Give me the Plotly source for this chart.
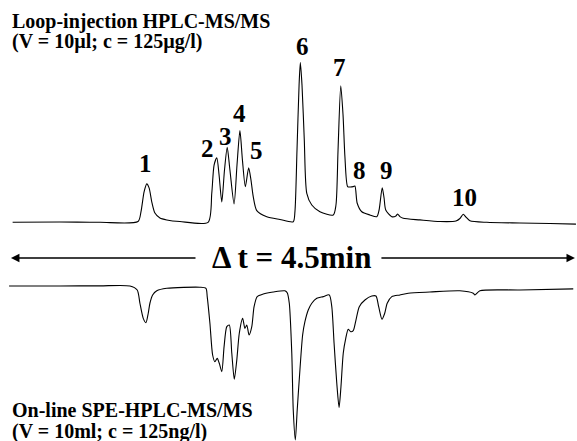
import plotly.graph_objects as go

# Retention time (s) and relative intensity (% of peak 6) - Loop-injection trace
t_loop = [0.3, 23.0, 42.2, 60.5, 61.9, 63.4, 64.7, 65.8, 67.2, 68.6, 71.0, 74.3, 80.6,
          94.1, 95.9, 97.0, 98.3, 99.4, 100.7, 102.0, 103.3, 104.6, 106.6, 108.0, 109.4,
          110.6, 112.0, 113.6, 114.7, 115.8, 117.5, 122.3, 128.6, 135.0, 135.8, 136.8,
          137.8, 138.4, 139.2, 140.3, 141.5, 143.9, 147.8, 154.2, 155.5, 156.5, 157.8,
          158.9, 159.8, 161.1, 162.2, 163.8, 164.6, 165.7, 167.9, 171.8, 175.1, 176.2,
          177.7, 178.6, 179.4, 182.3, 184.3, 185.1, 186.2, 187.8, 195.8, 205.4, 213.1,
          215.0, 216.6, 217.9, 219.8, 227.9, 243.8, 258.2, 270.7]
i_loop = [-0.2, 0.0, -0.2, 0.3, 6.3, 18.8, 23.8, 21.3, 11.9, 5.6, 2.5, 1.3, 0.3,
          -0.2, 18.1, 35.6, 40.2, 29.4, 12.5, 32.5, 46.7, 32.5, 11.3, 35.6, 57.1,
          38.8, 22.1, 33.9, 26.3, 15.8, 7.1, 3.3, 1.6, 0.2, 6.3, 45.0,
          85.6, 99.6, 85.6, 51.3, 17.9, 10.6, 6.4, 4.4, 10.6, 45.0, 85.2,
          66.9, 40.8, 22.1, 21.9, 22.1, 22.5, 11.7, 6.4, 4.4, 3.3, 7.5,
          21.4, 15.0, 7.5, 3.3, 3.8, 5.0, 3.4, 2.3, 1.3, 0.3, 0.6,
          2.2, 4.8, 3.1, 0.8, -0.2, -0.6, -0.9, -1.3]

# On-line SPE trace (plotted mirrored, downward)
t_spe = [-1.4, 23.0, 42.2, 56.6, 60.1, 61.4, 63.0, 64.3, 65.4, 66.2, 67.5, 69.5, 74.3,
         90.2, 93.1, 93.7, 95.0, 96.3, 97.4, 98.5, 99.5, 100.7, 101.8, 103.1, 104.3,
         105.5, 106.7, 107.9, 109.1, 110.7, 111.8, 112.7, 113.8, 115.1, 116.2, 117.7,
         120.6, 125.4, 131.0, 132.1, 133.1, 134.3, 135.0, 136.0, 136.9, 138.2, 139.5,
         140.6, 142.2, 143.9, 146.3, 149.4, 152.3, 153.5, 154.6, 155.9, 157.0, 157.9,
         159.0, 160.2, 161.4, 162.6, 163.8, 165.1, 166.7, 169.4, 172.7, 174.7, 176.0,
         177.6, 178.9, 180.1, 182.3, 186.2, 190.2, 200.6, 215.0, 221.4, 222.2, 224.6,
         243.8, 269.4]
i_spe = [0.0, 0.0, -0.1, 0.0, 2.6, 11.2, 21.0, 23.8, 17.7, 11.2, 5.8, 3.1, 1.5,
         0.8, 1.5, 6.9, 24.2, 44.8, 49.2, 47.0, 50.2, 55.6, 39.4, 26.4, 25.3,
         43.7, 60.6, 48.1, 30.7, 21.0, 27.5, 25.3, 31.8, 26.4, 13.4, 6.9,
         5.2, 3.9, 3.1, 4.4, 11.2, 43.7, 80.5, 100.0, 80.5, 54.5, 31.8,
         23.2, 15.6, 11.2, 8.0, 6.9, 5.8, 13.4, 37.2, 63.2, 78.8, 65.4,
         43.7, 34.0, 28.1, 29.7, 29.0, 22.1, 13.4, 9.1, 6.5, 6.5, 13.4,
         21.6, 17.7, 11.2, 6.9, 5.8, 4.7, 3.9, 3.1, 4.7, 5.8, 3.1,
         2.6, 1.9]

peak_labels = ["1", "2", "3", "4", "5", "6", "7", "8", "9", "10"]
peak_label_t = [64.3, 93.7, 102.7, 109.0, 117.5, 139.5, 157.4, 167.0, 179.9, 217.0]
peak_label_i = [36.7, 45.8, 53.6, 67.9, 44.7, 109.7, 96.6, 31.9, 31.9, 15.3]

FONT = "Liberation Serif"
W, H = 577, 441

fig = go.Figure()
line_style = dict(color="black", width=1.1, shape="spline", smoothing=0.7)
fig.add_trace(go.Scatter(x=t_loop, y=i_loop, mode="lines",
                         line=line_style, yaxis="y", hoverinfo="skip"))
fig.add_trace(go.Scatter(x=t_spe, y=i_spe, mode="lines",
                         line=line_style, yaxis="y2", hoverinfo="skip"))

ann = []
for lab, t, i in zip(peak_labels, peak_label_t, peak_label_i):
    ann.append(dict(x=t, y=i, xref="x", yref="y", text="<b>" + lab + "</b>", showarrow=False,
                    xanchor="center", yanchor="middle",
                    font=dict(family=FONT, size=25, color="black")))

def ptxt(text, px, py, size, anchor="left"):
    return dict(x=px / W, y=1 - py / H, xref="paper", yref="paper", text="<b>" + text + "</b>",
                showarrow=False, xanchor=anchor, yanchor="middle",
                font=dict(family=FONT, size=size, color="black"))

ann.append(ptxt("Loop-injection HPLC-MS/MS", 10, 21.5, 20))
ann.append(ptxt("(V = 10µl; c = 125µg/l)", 10, 41.5, 20))
ann.append(ptxt("On-line SPE-HPLC-MS/MS", 10, 410, 20))
ann.append(ptxt("(V = 10ml; c = 125ng/l)", 10, 431, 20))
ann.append(ptxt("Δ t = 4.5min", 292, 257, 31, anchor="center"))

arrow_y = 1 - 258 / H
ann.append(dict(x=-0.5, y=arrow_y, xref="x", yref="paper", ax=88.8, ay=0,
                axref="x", ayref="pixel", text="", showarrow=True,
                arrowhead=2, arrowsize=1.3, arrowwidth=1.3, arrowcolor="black"))
ann.append(dict(x=270.2, y=arrow_y, xref="x", yref="paper", ax=176.6, ay=0,
                axref="x", ayref="pixel", text="", showarrow=True,
                arrowhead=2, arrowsize=1.3, arrowwidth=1.3, arrowcolor="black"))

fig.update_layout(
    width=W, height=H, margin=dict(l=0, r=0, t=0, b=0),
    paper_bgcolor="white", plot_bgcolor="white", showlegend=False,
    xaxis=dict(range=[-5.76, 271.2], visible=False),
    yaxis=dict(range=[-136.875, 138.75], visible=False),
    yaxis2=dict(range=[100.65, -185.71], visible=False, overlaying="y"),
    annotations=ann,
)
fig.write_html("out.html", config={"displayModeBar": False},
               post_script="document.body.style.margin='0';document.body.style.padding='0';")
